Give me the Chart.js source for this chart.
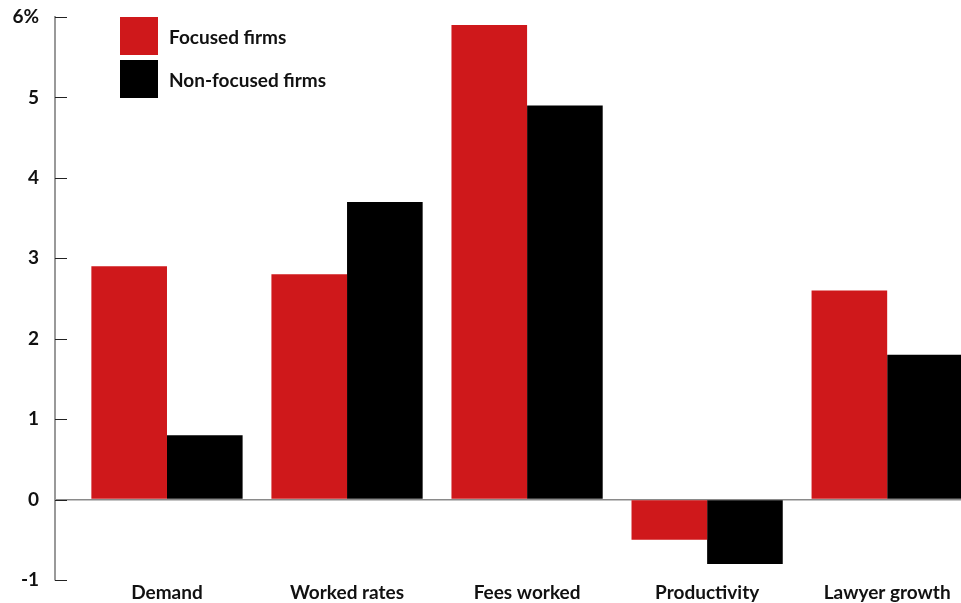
<!DOCTYPE html>
<html lang="en">

<head>
    <meta charset="UTF-8">
    <meta name="viewport" content="width=device-width, initial-scale=1.0">

    <script src="https://cdn.jsdelivr.net/npm/chart.js@4.4.3/dist/chart.umd.min.js"></script>

    <style>
        html,
        body {
            width: 961px;
            height: 603px;
            margin: 0;
            padding: 0;
            overflow: hidden;
            background: #fff;
        }

        #wrap {
            position: relative;
            width: 961px;
            height: 603px;
        }

        #legend {
            position: absolute;
            left: 120px;
            top: 17px;
            font-family: Lato, "Noto Sans", sans-serif;
            font-weight: 700;
            font-size: 19px;
            color: #111;
        }

        .legend-item {
            display: flex;
            align-items: center;
            height: 38px;
            margin-bottom: 5px;
        }

        .legend-box {
            width: 38px;
            height: 38px;
            margin-right: 11px;
        }
    </style>
</head>

<body>
    <div id="wrap">
        <canvas id="chart" width="961" height="603"></canvas>
        <div id="legend"></div>
    </div>

    <script>
        const categories = ["Demand", "Worked rates", "Fees worked", "Productivity", "Lawyer growth"];
        const focused_firms = [2.9, 2.8, 5.9, -0.5, 2.6];
        const non_focused_firms = [0.8, 3.7, 4.9, -0.8, 1.8];
        const y_tick_labels = { 6: "6%", 5: "5", 4: "4", 3: "3", 2: "2", 1: "1", 0: "0", "-1": "-1" };

        const series = [
            { label: "Focused firms", values: focused_firms, color: "#cf181b" },
            { label: "Non-focused firms", values: non_focused_firms, color: "#000000" }
        ];

        const font = { family: "Lato, 'Noto Sans', sans-serif", size: 19, weight: "bold" };

        // small inward tick marks on the y axis
        const inner_ticks = {
            id: "inner_ticks",
            afterDatasetsDraw(chart) {
                let y = chart.scales.y;
                let c = chart.ctx;
                c.save();
                c.strokeStyle = "#222";
                c.lineWidth = 1;
                for (let tick of y.ticks) {
                    let py = Math.round(y.getPixelForValue(tick.value)) + 0.5;
                    c.beginPath();
                    c.moveTo(y.right, py);
                    c.lineTo(y.right + 12, py);
                    c.stroke();
                }
                c.restore();
            }
        };

        let chartjs = new Chart(document.getElementById("chart"), {
            type: "bar",
            data: {
                datasets: series.map(s => ({
                    label: s.label,
                    data: s.values.map((v, i) => ({ x: i, y: v })),
                    backgroundColor: s.color,
                    borderWidth: 0,
                    categoryPercentage: 0.84,
                    barPercentage: 1.0
                }))
            },
            options: {
                responsive: false,
                animation: false,
                layout: { padding: { top: 17, right: 0, left: 0, bottom: 0 } },
                plugins: {
                    legend: { display: false },
                    tooltip: { enabled: false }
                },
                scales: {
                    x: {
                        type: "linear",
                        offset: false,
                        min: -0.622,
                        max: 4.41,
                        border: { display: false },
                        grid: { display: false, drawTicks: false, offset: false },
                        ticks: {
                            stepSize: 1,
                            includeBounds: false,
                            autoSkip: false,
                            maxRotation: 0,
                            padding: 1,
                            color: "#111",
                            font: font,
                            callback: value => categories[value] ?? ""
                        },
                        afterFit: scale => {
                            scale.height = 23;
                            scale.paddingLeft = 0;
                            scale.paddingRight = 0;
                        }
                    },
                    y: {
                        min: -1,
                        max: 6,
                        border: { display: true, color: "#999", width: 2 },
                        grid: {
                            drawTicks: false,
                            color: ctx => ctx.tick && ctx.tick.value === 0 ? "#8a8a8a" : "transparent",
                            lineWidth: 1.5
                        },
                        ticks: {
                            stepSize: 1,
                            padding: 16,
                            color: "#111",
                            font: font,
                            callback: value => y_tick_labels[value]
                        },
                        afterFit: scale => {
                            scale.width = 55;
                            scale.paddingTop = 0;
                            scale.paddingBottom = 0;
                        }
                    }
                }
            },
            plugins: [inner_ticks]
        });

        let legend = document.getElementById("legend");
        for (let ds of chartjs.data.datasets) {
            let item = document.createElement("div");
            item.className = "legend-item";
            let box = document.createElement("span");
            box.className = "legend-box";
            box.style.background = ds.backgroundColor;
            item.appendChild(box);
            item.appendChild(document.createTextNode(ds.label));
            legend.appendChild(item);
        }
    </script>
</body>

</html>
